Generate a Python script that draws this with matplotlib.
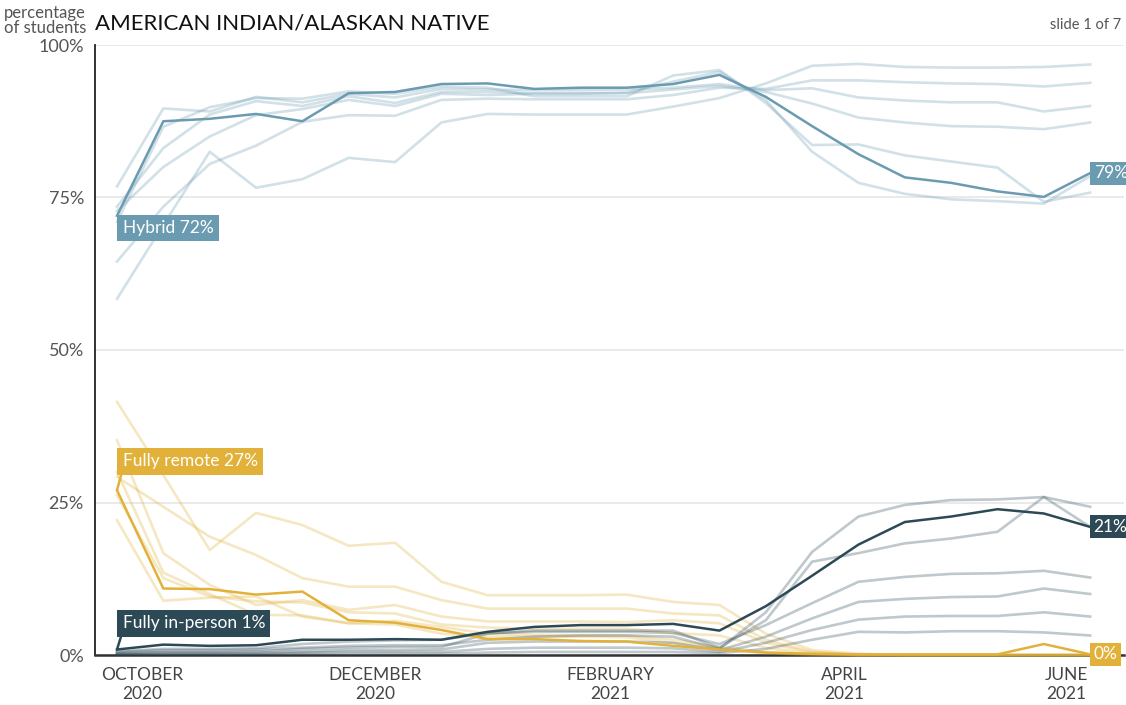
import numpy as np
import matplotlib.pyplot as plt

plt.rcParams['font.family'] = ['Lato', 'DejaVu Sans']

# highlighted group: American Indian/Alaskan Native
hybrid = [72.0, 87.5, 87.9, 88.7, 87.5, 92.1, 92.3, 93.6, 93.7, 92.8, 93.0,
          93.0, 93.6, 95.1, 91.5, 86.7, 82.1, 78.3, 77.4, 76.0, 75.1, 79.0]
remote = [27.0, 10.9, 10.8, 9.9, 10.4, 5.7, 5.3, 4.1, 2.6, 2.6, 2.3,
          2.2, 1.5, 0.9, 0.4, 0.2, 0.1, 0.1, 0.1, 0.1, 1.8, 0.1]
in_person = [0.9, 1.7, 1.5, 1.6, 2.5, 2.5, 2.6, 2.5, 3.8, 4.6, 4.9,
             4.9, 5.1, 4.0, 8.0, 13.0, 18.1, 21.8, 22.7, 23.9, 23.2, 21.0]

# the other six groups, drawn faint
hybrid_others = [
    [58.4, 70.5, 82.5, 76.6, 78.0, 81.5, 80.8, 87.3, 88.7, 88.6, 88.6, 88.6, 89.9, 91.3, 93.7, 96.6, 96.9, 96.4, 96.3, 96.3, 96.4, 96.8],
    [64.5, 73.5, 80.5, 83.5, 87.4, 88.5, 88.4, 91.0, 91.2, 91.1, 91.1, 91.1, 91.8, 93.0, 92.8, 94.2, 94.2, 93.9, 93.7, 93.6, 93.2, 93.8],
    [76.8, 89.6, 89.1, 91.5, 90.6, 92.0, 91.4, 92.8, 92.7, 92.6, 92.6, 92.7, 93.0, 93.6, 92.6, 92.9, 91.4, 90.9, 90.6, 90.6, 89.1, 90.0],
    [73.5, 83.1, 88.6, 90.8, 90.0, 91.6, 90.5, 92.3, 92.3, 92.1, 92.1, 92.1, 92.7, 93.3, 92.3, 90.4, 88.1, 87.3, 86.7, 86.6, 86.2, 87.3],
    [71.0, 86.6, 89.8, 91.3, 91.2, 92.4, 92.0, 93.2, 93.0, 91.6, 91.6, 91.6, 95.0, 95.9, 90.5, 83.6, 83.7, 81.9, 80.9, 79.9, 74.3, 75.8],
    [72.8, 80.0, 85.0, 88.5, 89.5, 91.0, 90.0, 92.0, 91.8, 92.0, 92.0, 92.2, 94.0, 95.6, 91.0, 82.5, 77.4, 75.6, 74.7, 74.4, 74.0, 78.5],
]
remote_others = [
    [41.5, 29.5, 17.2, 23.3, 21.3, 17.9, 18.4, 12.0, 9.8, 9.8, 9.8, 9.9, 8.7, 8.2, 3.5, 0.8, 0.2, 0, 0, 0, 0, 0],
    [29.2, 24.3, 19.4, 16.4, 12.6, 11.2, 11.2, 9.0, 7.6, 7.6, 7.6, 7.6, 6.8, 6.5, 2.5, 0.5, 0.1, 0, 0, 0, 0, 0],
    [35.2, 16.7, 11.5, 8.2, 9.0, 7.4, 8.2, 6.3, 5.5, 5.5, 5.5, 5.4, 5.7, 5.2, 2.0, 0.4, 0, 0, 0, 0, 0, 0],
    [26.2, 12.6, 9.6, 8.8, 8.6, 7.0, 6.8, 5.0, 4.5, 4.3, 4.3, 4.3, 3.6, 3.2, 1.2, 0.2, 0, 0, 0, 0, 0, 0],
    [22.1, 8.9, 9.4, 9.6, 6.3, 5.2, 5.6, 4.6, 3.5, 3.3, 3.2, 3.2, 2.5, 1.3, 0.5, 0.1, 0, 0, 0, 0, 0, 0],
    [30.0, 13.5, 10.0, 6.6, 6.5, 5.2, 5.0, 3.5, 3.0, 3.0, 3.0, 2.9, 2.0, 1.0, 0.3, 0, 0, 0, 0, 0, 0, 0],
]
in_person_others = [
    [0.5, 0.8, 0.8, 0.9, 1.2, 1.5, 1.6, 1.6, 2.5, 3.0, 3.2, 3.2, 3.0, 1.0, 7.0, 16.9, 22.7, 24.6, 25.4, 25.5, 25.9, 24.3],
    [0.3, 0.5, 0.5, 0.6, 1.0, 1.2, 1.3, 1.3, 3.5, 4.0, 4.0, 4.0, 4.0, 1.2, 5.7, 15.3, 16.7, 18.3, 19.1, 20.2, 25.9, 21.0],
    [0.6, 1.0, 1.0, 1.1, 1.8, 2.2, 2.4, 2.5, 3.6, 3.8, 3.8, 3.8, 3.6, 1.8, 4.9, 8.5, 12.0, 12.8, 13.3, 13.4, 13.8, 12.7],
    [0.2, 0.4, 0.4, 0.4, 0.6, 0.8, 0.8, 0.9, 2.0, 2.2, 2.2, 2.2, 2.0, 0.8, 3.0, 6.0, 8.7, 9.2, 9.5, 9.6, 10.9, 10.0],
    [0.1, 0.2, 0.2, 0.2, 0.4, 0.5, 0.5, 0.5, 1.0, 1.2, 1.2, 1.2, 1.1, 0.5, 2.0, 4.1, 5.8, 6.3, 6.4, 6.4, 7.0, 6.3],
    [0.1, 0.1, 0.1, 0.1, 0.2, 0.2, 0.2, 0.2, 0.4, 0.5, 0.5, 0.5, 0.5, 0.3, 1.0, 2.5, 3.8, 3.7, 3.9, 3.9, 3.7, 3.2],
]

month_labels = ["OCTOBER\n2020", "DECEMBER\n2020", "FEBRUARY\n2021", "APRIL\n2021", "JUNE\n2021"]
month_pos = [0.54, 5.57, 10.64, 15.69, 20.48]

blue = '#6a9bb0'
gold = '#e2b13a'
slate = '#2d4956'

x = np.arange(len(hybrid))

fig = plt.figure(figsize=(11.26, 7.05), dpi=100)
ax = fig.add_axes([95/1126, 1 - 655/705, (1124 - 95)/1126, 610/705])

for ys in hybrid_others:
    ax.plot(x, ys, color=blue, alpha=0.3, lw=1.9, zorder=3, clip_on=False)
for ys in remote_others:
    ax.plot(x, ys, color=gold, alpha=0.3, lw=1.9, zorder=3, clip_on=False)
for ys in in_person_others:
    ax.plot(x, ys, color=slate, alpha=0.3, lw=1.9, zorder=3, clip_on=False)

ax.plot(x, remote, color=gold, lw=1.8, zorder=5, clip_on=False)
ax.plot(x, hybrid, color=blue, lw=1.8, zorder=5, clip_on=False)
ax.plot(x, in_person, color=slate, lw=1.8, zorder=6, clip_on=False)

# labels at the start
box = dict(boxstyle='square,pad=0.3', ec='none')
ax.annotate("Hybrid %d%%" % round(hybrid[0]), xy=(0, hybrid[0]), xytext=(4, -3),
            textcoords='offset points', ha='left', va='top', color='white', fontsize=12.5,
            bbox=dict(box, fc=blue), zorder=8)
ax.annotate("Fully remote %d%%" % round(remote[0]), xy=(0, remote[0]), xytext=(4, 15),
            textcoords='offset points', ha='left', va='bottom', color='white', fontsize=12.5,
            bbox=dict(box, fc=gold), zorder=8,
            arrowprops=dict(arrowstyle='-', color=gold, lw=1.8, relpos=(0, 0),
                            shrinkA=0, shrinkB=0))
ax.annotate("Fully in-person %d%%" % round(in_person[0]), xy=(0, in_person[0]), xytext=(4, 13),
            textcoords='offset points', ha='left', va='bottom', color='white', fontsize=12.5,
            bbox=dict(box, fc=slate), zorder=8,
            arrowprops=dict(arrowstyle='-', color=slate, lw=1.8, relpos=(0, 0),
                            shrinkA=0, shrinkB=0))

# labels at the end
for ys, c in [(hybrid, blue), (in_person, slate), (remote, gold)]:
    ax.annotate("%d%%" % round(ys[-1]), xy=(x[-1], ys[-1]), xytext=(2.5, 0),
                textcoords='offset points', ha='left', va='center', color='white', fontsize=12.5,
                bbox=dict(boxstyle='square,pad=0.2', ec='none', fc=c), zorder=8,
                annotation_clip=False)

ax.set_xlim(-0.475, 21.73)
ax.set_ylim(0, 100)
ax.set_yticks([0, 25, 50, 75, 100])
ax.set_yticklabels(['0%', '25%', '50%', '75%', '100%'])
ax.set_xticks(month_pos)
ax.set_xticklabels(month_labels, linespacing=1.2)
ax.tick_params(length=0)
ax.tick_params(axis='y', labelsize=13, labelcolor='#555', pad=8)
ax.tick_params(axis='x', labelsize=12.5, labelcolor='#444', pad=9)

ax.yaxis.grid(True, color='#e6e6e6', lw=1.2)
ax.set_axisbelow(True)
ax.spines['top'].set_visible(False)
ax.spines['right'].set_visible(False)
ax.spines['left'].set_color('#222')
ax.spines['left'].set_linewidth(1.3)
ax.spines['bottom'].set_color('#333')
ax.spines['bottom'].set_linewidth(1.8)

fig.text(95/1126, 1 - 29/705, "AMERICAN INDIAN/ALASKAN NATIVE", fontsize=16,
         color='#111', va='baseline', ha='left')
fig.text(86/1126, 1 - 5/705, "percentage\nof students", fontsize=12, color='#555',
         ha='right', va='top', linespacing=0.9)
fig.text(1121/1126, 1 - 29/705, "slide 1 of 7", fontsize=10.5, color='#555',
         ha='right', va='baseline')

plt.savefig('out.png', dpi=100)
